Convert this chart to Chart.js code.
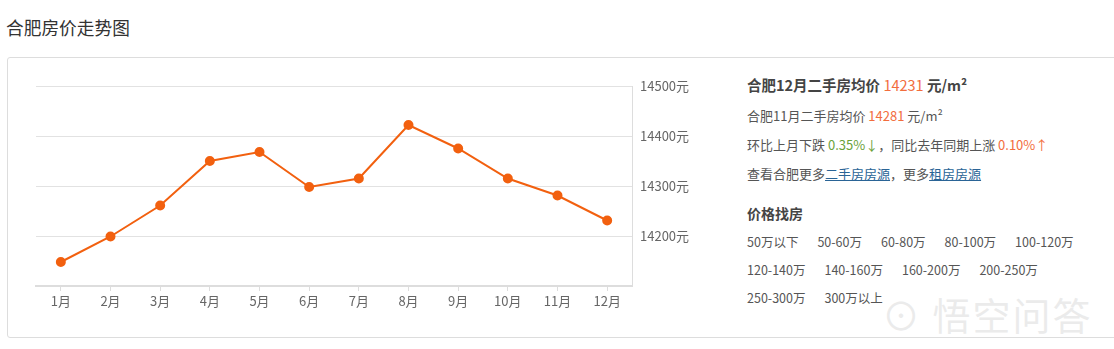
<!DOCTYPE html>
<html>
<head>
<meta charset="utf-8">
<script src="https://cdn.jsdelivr.net/npm/chart.js@4"></script>
<style>
    body { margin: 0; width: 1114px; height: 349px; background: #fff; font-family: "Noto Sans CJK SC", "Noto Sans", sans-serif; color: #333; overflow: hidden; position: relative; }
    .title { position: absolute; left: 6px; top: 14px; font-size: 17.7px; line-height: 26px; color: #333; }
    .panel { position: absolute; left: 7px; top: 57px; width: 1120px; height: 279px; border: 1px solid #ddd; border-radius: 3px; }
    #wrap { position: absolute; left: 0; top: 0; width: 720px; height: 330px; }
    .info { position: absolute; left: 747px; top: 76px; font-size: 12.5px; color: #555; }
    .info div { position: absolute; left: 0; white-space: nowrap; }
    .info .big { font-weight: bold; font-size: 14px; color: #444; top: -1px; }
    .info .first { font-size: 14.5px; top: -2px; }
    .info .mid { font-size: 13px; }
    .orange { color: #f26d3d; }
    .green { color: #6aa23a; }
    .info a { color: #2a6496; text-decoration: underline; }
    .ranges span { margin-right: 19px; }
    .mark { position: absolute; left: 882px; top: 286px; font-size: 38px; color: rgba(215,215,215,0.5); letter-spacing: 2px; }
</style>
</head>
<body>
<div class="title">合肥房价走势图</div>
<div class="panel"></div>
<div id="wrap"><canvas id="priceChart"></canvas></div>
<div class="info" id="info"></div>
<div class="mark">⊙ 悟空问答</div>
<script>
const months = ['1月', '2月', '3月', '4月', '5月', '6月', '7月', '8月', '9月', '10月', '11月', '12月'];
const prices = [14148, 14199, 14261, 14350, 14368, 14298, 14315, 14422, 14375, 14315, 14281, 14231];
const yTicks = [14200, 14300, 14400, 14500];
const priceRanges = [
    ['50万以下', '50-60万', '60-80万', '80-100万', '100-120万'],
    ['120-140万', '140-160万', '160-200万', '200-250万'],
    ['250-300万', '300万以上']
];

// right side text
const info = document.getElementById('info');
const last = prices[prices.length - 1];
const prev = prices[prices.length - 2];
info.innerHTML =
    '<div class="big first">合肥12月二手房均价 <span class="orange" style="font-weight:normal">' + last + '</span> 元/m²</div>' +
    '<div class="mid" style="top:30px">合肥11月二手房均价 <span class="orange">' + prev + '</span> 元/m²</div>' +
    '<div class="mid" style="top:59px">环比上月下跌 <span class="green">0.35%↓</span>，同比去年同期上涨 <span class="orange">0.10%↑</span></div>' +
    '<div class="mid" style="top:88px">查看合肥更多<a>二手房房源</a>，更多<a>租房房源</a></div>' +
    '<div class="big" style="top:127px">价格找房</div>' +
    priceRanges.map(function (row, i) {
        return '<div class="ranges" style="top:' + (156 + i * 28) + 'px">' +
            row.map(r => '<span>' + r + '</span>').join('') + '</div>';
    }).join('');

const ctx = document.getElementById('priceChart').getContext('2d');
new Chart(ctx, {
    type: 'line',
    data: {
        labels: months,
        datasets: [{
            data: prices,
            borderColor: '#f2600f',
            backgroundColor: '#f2600f',
            borderWidth: 2,
            pointRadius: 4,
            pointHoverRadius: 4,
            tension: 0,
            fill: false
        }]
    },
    options: {
        responsive: true,
        maintainAspectRatio: false,
        animation: false,
        layout: { padding: { left: 36, top: 86, right: 0, bottom: 0 } },
        plugins: { legend: { display: false }, tooltip: { enabled: false } },
        scales: {
            x: {
                offset: true,
                grid: { drawOnChartArea: false, drawTicks: true, tickLength: 5, color: '#ddd' },
                border: { color: '#ddd', width: 2 },
                ticks: { color: '#666', font: { size: 13, family: '"Noto Sans CJK SC"' }, padding: 2, maxRotation: 0 },
                afterFit: function (s) { s.height = 44; }
            },
            y: {
                position: 'right',
                min: 14100,
                max: 14500,
                afterBuildTicks: function (s) {
                    s.ticks = [14100].concat(yTicks).map(v => ({ value: v }));
                },
                grid: { color: '#e2e2e2', drawTicks: false },
                border: { color: '#ddd', width: 1 },
                ticks: {
                    color: '#666',
                    padding: 8,
                    font: { size: 13, family: '"Noto Sans CJK SC"' },
                    callback: v => (yTicks.includes(v) ? v + '元' : '')
                },
                afterFit: function (s) { s.width = 88; }
            }
        }
    }
});
</script>
</body>
</html>
